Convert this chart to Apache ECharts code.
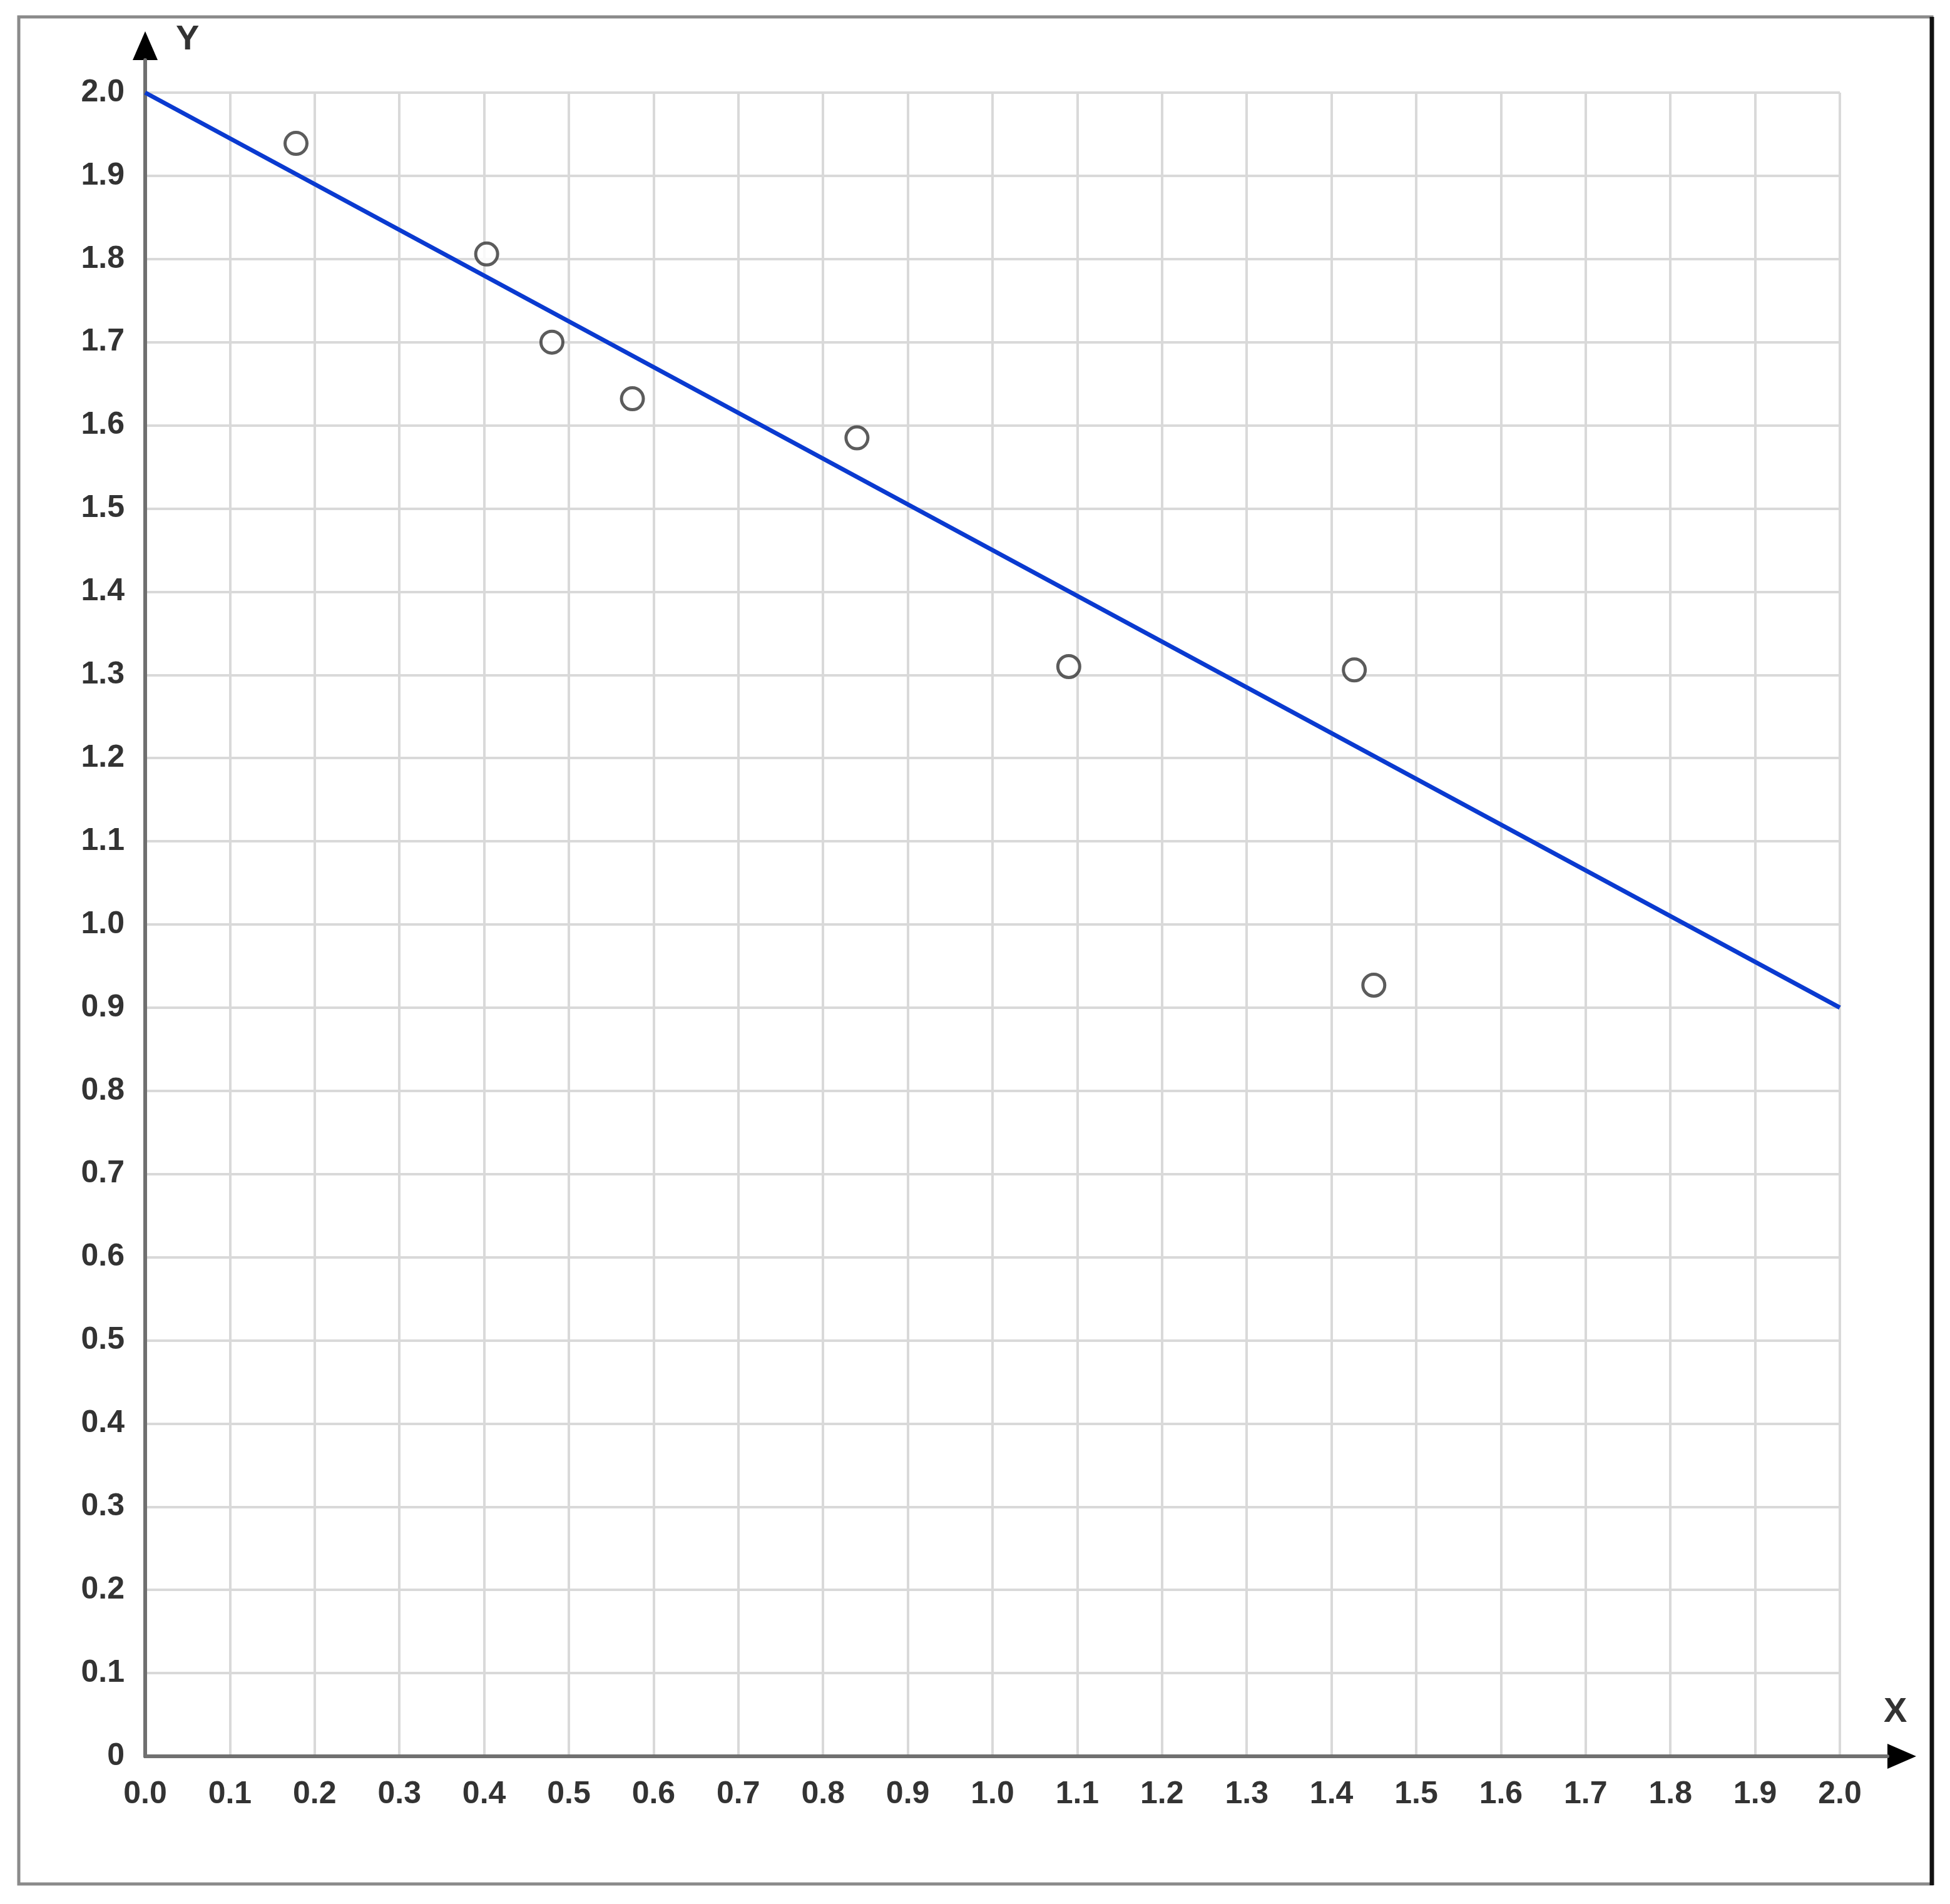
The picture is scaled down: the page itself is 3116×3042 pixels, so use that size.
<!DOCTYPE html>
<html>
<head>
<meta charset="utf-8">
<script src="https://cdn.jsdelivr.net/npm/echarts@6/dist/echarts.min.js"></script>
<style>
  html, body { margin: 0; padding: 0; background: #fff; }
  #chart { width: 3116px; height: 3042px; }
</style>
</head>
<body>
<div id="chart"></div>
<script>
const pointX = [0.178, 0.403, 0.480, 0.575, 0.840, 1.090, 1.427, 1.450];
const pointY = [1.939, 1.806, 1.700, 1.632, 1.585, 1.310, 1.306, 0.927];
const lineX = [0.0, 2.0];
const lineY = [2.0, 0.9];

const font = "Liberation Sans, Arial, sans-serif";

const chart = echarts.init(document.getElementById("chart"));

const fmt = (v) => v === 0 ? "0" : v.toFixed(1);

// helper for the bare axis-line-only axes (arrow + grey shaft)
function bareAxis(gridIndex, z, line) {
    return {
        gridIndex, type: "value", min: 0, max: 1, z,
        axisLine: Object.assign({ show: true, onZero: false }, line),
        axisTick: { show: false },
        axisLabel: { show: false },
        splitLine: { show: false }
    };
}

const arrowLine = {
    symbol: ["none", "triangle"], symbolSize: [40, 46],
    lineStyle: { color: "#000", width: 5 }
};
const shaftLine = {
    symbol: ["none", "none"],
    lineStyle: { color: "#707070", width: 6 }
};

chart.setOption({
    backgroundColor: "#fff",
    animation: false,
    grid: [
        { left: 232, right: 176, top: 148, bottom: 236 },
        { left: 232, right: 77, top: 73, bottom: 236 },
        { left: 232, right: 100, top: 96, bottom: 236 }
    ],
    xAxis: [
        {
            gridIndex: 0, type: "value", min: 0, max: 2, interval: 0.1,
            axisLine: { show: false },
            axisTick: { show: false },
            axisLabel: {
                margin: 36, fontSize: 50, fontWeight: "bold", color: "#333", fontFamily: font,
                formatter: (v) => v.toFixed(1)
            },
            splitLine: { show: true, lineStyle: { color: "#d9d9d9", width: 4 } }
        },
        bareAxis(1, 1, arrowLine),
        bareAxis(2, 2, shaftLine)
    ],
    yAxis: [
        {
            gridIndex: 0, type: "value", min: 0, max: 2, interval: 0.1,
            axisLine: { show: false },
            axisTick: { show: false },
            axisLabel: {
                margin: 33, fontSize: 50, fontWeight: "bold", color: "#333", fontFamily: font,
                formatter: fmt
            },
            splitLine: { show: true, lineStyle: { color: "#d9d9d9", width: 4 } }
        },
        bareAxis(1, 1, arrowLine),
        bareAxis(2, 2, shaftLine)
    ],
    graphic: [
        {
            type: "rect", z: 0,
            shape: { x: 30, y: 27, width: 3057, height: 2983 },
            style: { fill: "none", stroke: "#8a8a8a", lineWidth: 5 }
        },
        {
            type: "line", z: 1,
            shape: { x1: 3087, y1: 27, x2: 3087, y2: 3012 },
            style: { stroke: "#111", lineWidth: 7 }
        },
        {
            type: "text", left: 281, top: 36,
            style: { text: "Y", fontSize: 56, fontWeight: "bold", fill: "#333", fontFamily: font }
        },
        {
            type: "text", left: 3010, top: 2708,
            style: { text: "X", fontSize: 56, fontWeight: "bold", fill: "#333", fontFamily: font }
        }
    ],
    series: [
        {
            type: "line",
            xAxisIndex: 0, yAxisIndex: 0,
            data: lineX.map((x, i) => [x, lineY[i]]),
            symbol: "none",
            lineStyle: { color: "#0a3ad0", width: 7 },
            z: 3
        },
        {
            type: "scatter",
            xAxisIndex: 0, yAxisIndex: 0,
            data: pointX.map((x, i) => [x, pointY[i]]),
            symbol: "circle",
            symbolSize: 35,
            itemStyle: { color: "#fff", borderColor: "#333", borderWidth: 5 },
            z: 4
        }
    ]
});
</script>
</body>
</html>
